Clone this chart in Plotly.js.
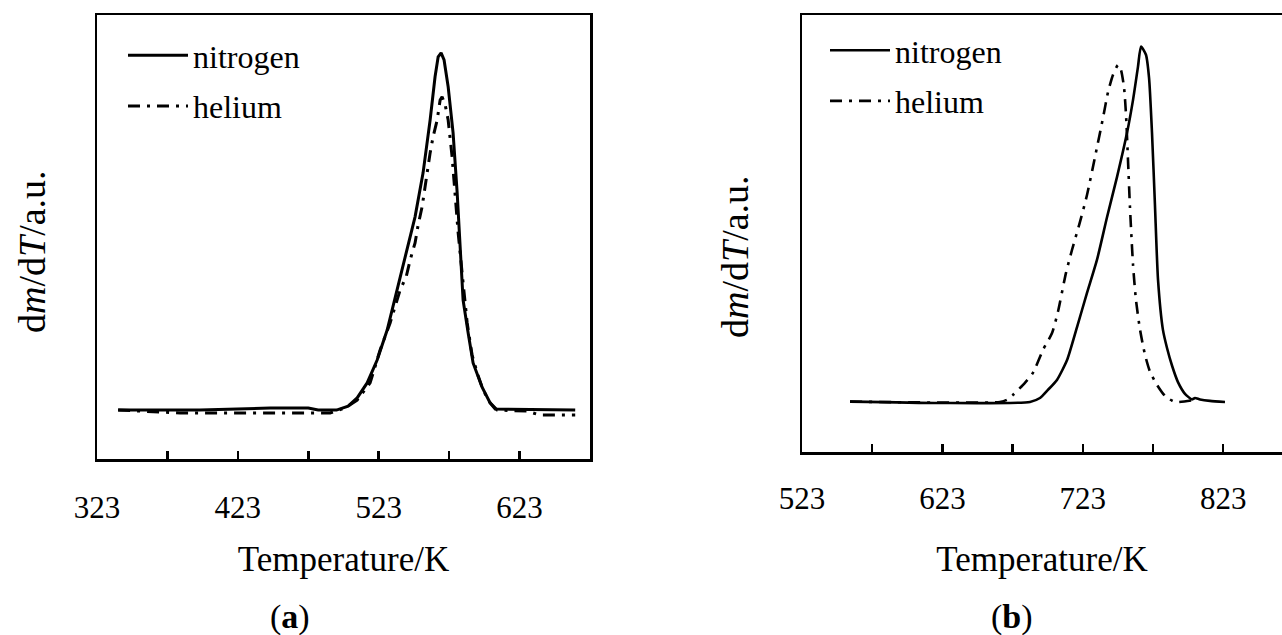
<!DOCTYPE html>
<html>
<head>
<meta charset="utf-8">
<script src="https://cdn.plot.ly/plotly-3.0.1.min.js"></script>
<style>html,body{margin:0;padding:0;background:#fff;}#chart{width:1282px;height:635px;}</style>
</head>
<body>
<div id="chart"></div>
<script>
// Panel (a): temperature (K) and dm/dT (a.u.)
var tempA_N2 = [338, 396, 446, 473, 480, 493, 501.3, 507.7, 514.8, 521.9, 529, 536, 541.7, 548.8, 554.5, 559.5, 563, 565.2, 567.3, 569.4, 572.3, 575.8, 578.7, 580.8, 582.9, 586.5, 590, 596.4, 602.1, 605.7, 662.5];
var dtgA_N2  = [0, 0, 0.56, 0.56, 0, 0, 1.1, 3.4, 7.6, 14.0, 22.4, 33.6, 42.9, 54.1, 66.4, 81.2, 93.3, 98.9, 100, 98.0, 90.5, 77.6, 60.8, 44.8, 30.8, 21.6, 13.2, 6.4, 2.0, 0.3, 0];
var tempA_He = [338, 382, 446, 488.5, 499.1, 507.7, 516.9, 524, 531.1, 538.2, 542.5, 545.3, 548.8, 551, 553.8, 557.4, 559.5, 561.6, 564.5, 566.6, 568, 570.2, 572.3, 575.1, 577.3, 579.4, 582.2, 585.8, 589.3, 592.9, 597.1, 602.1, 607.1, 628.4, 637.6, 662.5];
var dtgA_He  = [0, -0.8, -0.8, -0.8, 0.6, 2.8, 7.6, 16.8, 24.4, 33.6, 37.3, 42.0, 46.8, 51.8, 56.9, 66.7, 72.0, 76.5, 81.2, 86.8, 87.7, 85.4, 81.2, 70.9, 58.8, 49.6, 38.4, 24.4, 15.4, 10.4, 5.6, 2.0, 0, -0.3, -1.4, -1.4];

// Panel (b)
var tempB_N2 = [557.2, 621.3, 685.4, 692.5, 698.2, 704.6, 711.8, 718.9, 726, 733.1, 740.3, 747.4, 754.5, 758.8, 762.3, 764.5, 768, 770.2, 772.3, 774.4, 776.6, 780.1, 783, 786.6, 790.8, 795.8, 800.8, 802.9, 806.5, 813.6, 824.3];
var dtgB_N2  = [0, -0.4, -0.1, 1.0, 3.3, 6.1, 11.7, 21.0, 30.6, 39.9, 52.0, 63.3, 75.7, 85.0, 94.3, 100, 97.7, 91.2, 75.7, 55.4, 34.3, 20.2, 15.1, 10.1, 5.5, 2.2, 0.6, 1.0, 0.6, 0.2, -0.1];
var tempB_He = [557.2, 664, 669, 673.3, 681.8, 687.5, 694.7, 701.1, 705.3, 711, 715.3, 721, 726, 731.7, 737.4, 741, 744.5, 748.1, 750.2, 752.4, 753.8, 755.2, 756.6, 758.8, 760.9, 763.8, 767.3, 770.9, 775.9, 781.6, 788.7, 802.9];
var dtgB_He  = [0, -0.1, 0.5, 1.9, 5.3, 8.1, 14.6, 19.3, 25.3, 36.2, 42.7, 50.6, 58.2, 68.9, 79.9, 87.2, 92.0, 94.8, 93.4, 88.4, 80.8, 68.1, 54.8, 38.5, 28.6, 20.2, 13.2, 8.4, 4.7, 1.6, -0.1, 0.5];

var seriesNames = ['nitrogen', 'helium'];
var tickValsA = [323, 423, 523, 623];
var tickValsB = [523, 623, 723, 823];
var xTitle = 'Temperature/K';
var yTitle = 'd<i>m</i>/d<i>T</i>/a.u.';

var FONT = 'Liberation Serif';
var heDash = '12px,7px,3px,7px';

var traces = [
  {x: tempA_N2, y: dtgA_N2, name: seriesNames[0], type: 'scatter', mode: 'lines', xaxis: 'x', yaxis: 'y', legend: 'legend', legendgroup: 'a1',
   line: {color: '#000', width: 3}},
  {x: tempA_He, y: dtgA_He, name: seriesNames[1], type: 'scatter', mode: 'lines', xaxis: 'x', yaxis: 'y', legend: 'legend', legendgroup: 'a2',
   line: {color: '#000', width: 3, dash: heDash}},
  {x: tempB_N2, y: dtgB_N2, name: seriesNames[0], type: 'scatter', mode: 'lines', xaxis: 'x2', yaxis: 'y2', legend: 'legend2', legendgroup: 'b1',
   line: {color: '#000', width: 2.6, shape: 'spline', smoothing: 0.6}},
  {x: tempB_He, y: dtgB_He, name: seriesNames[1], type: 'scatter', mode: 'lines', xaxis: 'x2', yaxis: 'y2', legend: 'legend2', legendgroup: 'b2',
   line: {color: '#000', width: 2.6, dash: heDash, shape: 'spline', smoothing: 0.6}}
];

function xAxis(domain, range, tickvals, anchor, labStand, titleStand) {
  return {
    domain: domain, range: range, anchor: anchor,
    showline: true, linecolor: '#000', linewidth: 2.5, mirror: true,
    showgrid: false, zeroline: false,
    ticks: 'inside', ticklen: 8, tickwidth: 2.5, tickcolor: '#000',
    tickmode: 'array', tickvals: tickvals, ticktext: tickvals.map(String),
    minor: {dtick: 50, tick0: tickvals[0], ticks: 'inside', ticklen: 8, tickwidth: 2.5, tickcolor: '#000', showgrid: false},
    tickfont: {family: FONT, size: 31, color: '#000'},
    ticklabelstandoff: labStand,
    title: {text: xTitle, font: {family: FONT, size: 35, color: '#000'}, standoff: titleStand}
  };
}
function yAxis(domain, range, anchor, mirror) {
  return {
    domain: domain, range: range, anchor: anchor,
    showline: true, linecolor: '#000', linewidth: 2.5, mirror: mirror,
    showgrid: false, zeroline: false, ticks: '', showticklabels: false
  };
}

var legendBase = {xanchor: 'left', yanchor: 'top', bgcolor: 'rgba(0,0,0,0)',
  font: {family: FONT, size: 32, color: '#000'}, itemwidth: 60, tracegroupgap: 6};

var layout = {
  width: 1282, height: 635,
  margin: {l: 0, r: 0, t: 0, b: 0},
  paper_bgcolor: '#fff', plot_bgcolor: '#fff',
  font: {family: FONT, color: '#000'},
  xaxis: xAxis([97/1282, 590/1282], [323, 673], tickValsA, 'y', 19, 23),
  yaxis: yAxis([(635-459)/635, (635-15)/635], [-13.7, 110.6], 'x', true),
  xaxis2: xAxis([802/1282, 1], [523, 864.9], tickValsB, 'y2', 17, 32),
  yaxis2: yAxis([(635-452)/635, (635-15)/635], [-14.2, 108.9], 'x2', false),
  legend: Object.assign({}, legendBase, {x: 123/1282, y: 1 - 28/635}),
  legend2: Object.assign({}, legendBase, {x: 825/1282, y: 1 - 23/635}),
  annotations: [
    {text: yTitle, x: 32/1282, y: 1 - 252/635, xref: 'paper', yref: 'paper', showarrow: false, textangle: -90,
     xanchor: 'center', yanchor: 'middle', font: {family: FONT, size: 38, color: '#000'}},
    {text: yTitle, x: 735/1282, y: 1 - 257/635, xref: 'paper', yref: 'paper', showarrow: false, textangle: -90,
     xanchor: 'center', yanchor: 'middle', font: {family: FONT, size: 38, color: '#000'}},
    {text: '(<b>a</b>)', x: 290/1282, y: 1 - 617/635, xref: 'paper', yref: 'paper', showarrow: false,
     xanchor: 'center', yanchor: 'middle', font: {family: FONT, size: 34, color: '#000'}},
    {text: '(<b>b</b>)', x: 1012/1282, y: 1 - 617/635, xref: 'paper', yref: 'paper', showarrow: false,
     xanchor: 'center', yanchor: 'middle', font: {family: FONT, size: 34, color: '#000'}}
  ]
};

Plotly.newPlot('chart', traces, layout, {displayModeBar: false, staticPlot: true});
</script>
</body>
</html>
